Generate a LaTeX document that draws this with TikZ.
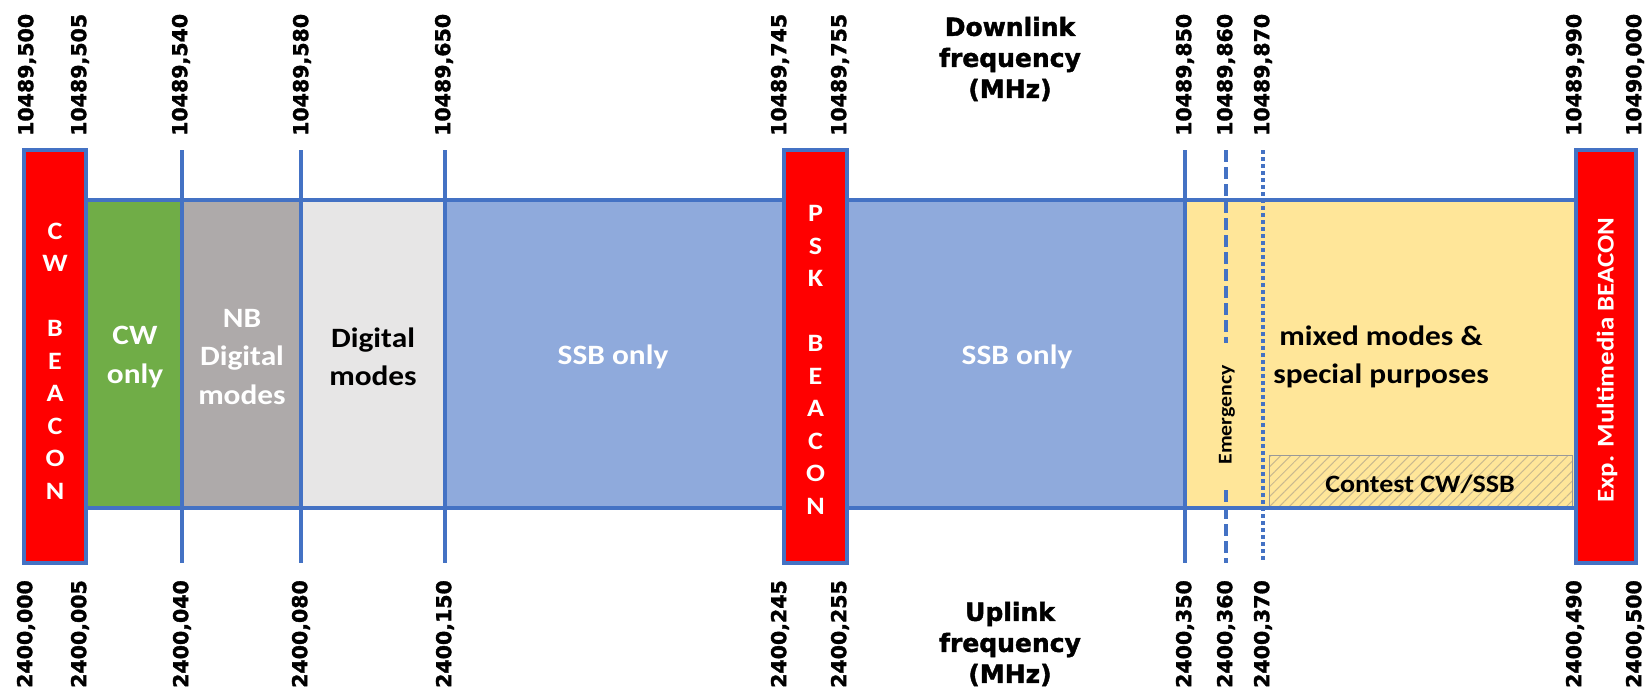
\documentclass[tikz,border=0pt]{standalone}
\usepackage{fontspec}
\newfontfamily\labfont[BoldFeatures={FakeBold=1.6}]{DejaVu Sans}
\newfontfamily\bandfont[FakeStretch=1.12]{Carlito}
\usetikzlibrary{patterns.meta}
\definecolor{lineblue}{HTML}{4472C4}
\definecolor{beaconred}{HTML}{FF0000}
\definecolor{cwgreen}{HTML}{70AD47}
\definecolor{nbgray}{HTML}{AEAAAA}
\definecolor{diggray}{HTML}{E7E6E6}
\definecolor{ssbblue}{HTML}{8FAADC}
\definecolor{mixyellow}{HTML}{FFE699}
\definecolor{hatch}{HTML}{C9B98F}
\tikzset{
  freqlab/.style={inner sep=0pt, rotate=90, font=\labfont\bfseries\fontsize{20.5}{24}\selectfont},
  toplab/.style={freqlab, anchor=west},
  botlab/.style={freqlab, anchor=east},
  axistitle/.style={inner sep=0pt, align=center, font=\labfont\bfseries\fontsize{25}{31}\selectfont},
  bandtext/.style={inner sep=0pt, align=center, font=\bandfont\bfseries\fontsize{28}{38.5}\selectfont},
  beacontext/.style={inner sep=0pt, align=center, text=white, font=\bandfont\bfseries\fontsize{25}{32.5}\selectfont},
  beaconbox/.style={fill=beaconred, draw=lineblue, line width=4.5pt},
  tick/.style={draw=lineblue, line width=4pt},
}
\begin{document}
\begin{tikzpicture}[x=1pt, y=-1pt]
\useasboundingbox (0,0) rectangle (1650,697);
% band fills
\fill[cwgreen] (86,200) rectangle (182,508);
\fill[nbgray] (182,200) rectangle (301,508);
\fill[diggray] (301,200) rectangle (445,508);
\fill[ssbblue] (445,200) rectangle (1185,508);
\fill[mixyellow] (1185,200) rectangle (1576,508);
% contest box
\path[fill=mixyellow] (1269,455) rectangle (1572,508);
\path[pattern={Lines[angle=45, distance=7pt, line width=1pt]}, pattern color=hatch] (1269,455) rectangle (1572,508);
\draw[draw=gray!80, line width=1pt] (1269,455) rectangle (1572,508);
% band outline
\draw[lineblue, line width=4pt] (86,200) -- (1576,200);
\draw[lineblue, line width=4pt] (86,508) -- (1576,508);
% ticks
\coordinate (t540a) at (182,150); \coordinate (t540b) at (182,563);
\coordinate (t580a) at (301,150); \coordinate (t580b) at (301,563);
\coordinate (t650a) at (445,150); \coordinate (t650b) at (445,563);
\coordinate (t850a) at (1185,150); \coordinate (t850b) at (1185,563);
\coordinate (t860a) at (1226,150); \coordinate (t860b) at (1226,563);
\coordinate (t870a) at (1263,150); \coordinate (t870b) at (1263,563);
\draw[tick] (t540a) -- (t540b);
\draw[tick] (t580a) -- (t580b);
\draw[tick] (t650a) -- (t650b);
\draw[tick] (t850a) -- (t850b);
\draw[tick, dash pattern=on 12pt off 5pt] (t860a) -- (t860b);
\draw[tick, line width=3.5pt, dash pattern=on 3.5pt off 3.5pt] (t870a) -- (t870b);
% beacons
\draw[beaconbox] (24,150) rectangle (86,563);
\draw[beaconbox] (784,150) rectangle (847,563);
\draw[beaconbox] (1576,150) rectangle (1636,563);
% beacon texts
\node[beacontext] (cwb) at (55,361) {C\\W\\~\\B\\E\\A\\C\\O\\N};
\node[beacontext] (pskb) at (815.5,360) {P\\S\\K\\~\\B\\E\\A\\C\\O\\N};
\node[beacontext, rotate=90, font=\bandfont\bfseries\fontsize{24}{28}\selectfont] (expb) at (1607,360) {Exp. Multimedia BEACON};
% band texts
\node[bandtext, text=white] (cwonly) at (135,357) {CW\\only};
\node[bandtext, text=white] (nbdig) at (242,357) {NB\\Digital\\modes};
\node[bandtext, text=black] (digmodes) at (373,357) {Digital\\modes};
\node[bandtext, text=white] (ssb1) at (613,357) {SSB only};
\node[bandtext, text=white] (ssb2) at (1017,357) {SSB only};
\node[bandtext, text=black] (mixed) at (1381,357) {mixed modes \&\\special purposes};
\node[bandtext, text=black, font=\bandfont\bfseries\fontsize{25}{30}\selectfont] (contest) at (1420,484) {Contest CW/SSB};
\node[fill=mixyellow, inner xsep=22pt, inner ysep=2pt, rotate=90, font=\bandfont\bfseries\fontsize{19.5}{22}\selectfont] (emerg) at (1227,415) {Emergency};
% axis titles
\node[axistitle] (down) at (1010,59) {Downlink\\frequency\\(MHz)};
\node[axistitle] (up) at (1010,644) {Uplink\\frequency\\(MHz)};
% top labels
\node[toplab] (d500) at (27,136) {10489,500};
\node[toplab] (d505) at (80,136) {10489,505};
\node[toplab] (d540) at (181,136) {10489,540};
\node[toplab] (d580) at (302,136) {10489,580};
\node[toplab] (d650) at (444,136) {10489,650};
\node[toplab] (d745) at (780,136) {10489,745};
\node[toplab] (d755) at (840,136) {10489,755};
\node[toplab] (d850) at (1185,136) {10489,850};
\node[toplab] (d860) at (1226,136) {10489,860};
\node[toplab] (d870) at (1263,136) {10489,870};
\node[toplab] (d990) at (1575,136) {10489,990};
\node[toplab] (d000) at (1635,136) {10490,000};
% bottom labels
\node[botlab] (u000) at (26,580) {2400,000};
\node[botlab] (u005) at (80,580) {2400,005};
\node[botlab] (u040) at (182,580) {2400,040};
\node[botlab] (u080) at (301,580) {2400,080};
\node[botlab] (u150) at (445,580) {2400,150};
\node[botlab] (u245) at (780,580) {2400,245};
\node[botlab] (u255) at (840,580) {2400,255};
\node[botlab] (u350) at (1185,580) {2400,350};
\node[botlab] (u360) at (1226,580) {2400,360};
\node[botlab] (u370) at (1263,580) {2400,370};
\node[botlab] (u490) at (1575,580) {2400,490};
\node[botlab] (u500) at (1635,580) {2400,500};
\end{tikzpicture}
\end{document}
